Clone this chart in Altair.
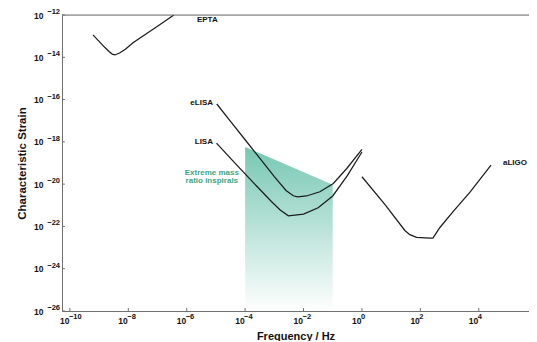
import altair as alt
import pandas as pd

# values, as log10 of frequency (Hz) and log10 of strain
epta_logf = [-9.21, -9.0, -8.8, -8.65, -8.55, -8.46, -8.3, -8.1, -7.84, -7.0, -6.44]
epta_logh = [-12.94, -13.25, -13.54, -13.74, -13.85, -13.89, -13.80, -13.62, -13.31, -12.53, -12.0]

elisa_logf = [-4.97, -4.5, -4.0, -3.5, -3.0, -2.6, -2.35, -2.2, -1.9, -1.44, -0.98, -0.52, 0.0]
elisa_logh = [-16.21, -17.03, -17.90, -18.77, -19.64, -20.30, -20.55, -20.60, -20.56, -20.36, -19.97, -19.26, -18.36]

lisa_logf = [-4.98, -4.3, -3.6, -3.1, -2.8, -2.52, -2.0, -1.5, -1.0, -0.5, 0.0]
lisa_logh = [-18.06, -19.08, -20.10, -20.82, -21.22, -21.50, -21.42, -21.12, -20.56, -19.60, -18.48]

aligo_logf = [0.0, 0.79, 1.47, 1.64, 1.87, 2.33, 2.43, 2.67, 3.12, 3.70, 4.42]
aligo_logh = [-19.65, -20.97, -22.19, -22.39, -22.52, -22.55, -22.55, -22.05, -21.30, -20.38, -19.10]

emri_logf = [-4.0, -1.0]
emri_logh = [-18.24, -20.03]
emri_floor = -26.0

curve_labels = ["EPTA", "eLISA", "LISA", "aLIGO"]
label_logf = [-5.65, -5.10, -5.10, 4.83]
label_logh = [-12.23, -16.18, -18.01, -19.0]
label_align = ["left", "right", "right", "left"]

emri_text = ["Extreme mass", "ratio inspirals"]
emri_text_logf = -5.14
emri_text_logh = -19.46

x_ticks = [-10, -8, -6, -4, -2, 0, 2, 4]
y_ticks = [-26, -24, -22, -20, -18, -16, -14, -12]
x_domain = [-10.27, 5.72]
y_domain = [-26, -12]


def exp_str(e):
    return str(e).replace("-", "\u2212")


rows = []
for name, lf, lh in [("EPTA", epta_logf, epta_logh), ("eLISA", elisa_logf, elisa_logh),
                     ("LISA", lisa_logf, lisa_logh), ("aLIGO", aligo_logf, aligo_logh)]:
    for a, b in zip(lf, lh):
        rows.append({"curve": name, "f": 10 ** a, "h": 10 ** b})
curves = pd.DataFrame(rows)

emri = pd.DataFrame({"f": [10 ** v for v in emri_logf],
                     "h": [10 ** v for v in emri_logh],
                     "h2": [10 ** emri_floor] * len(emri_logf)})

labels = pd.DataFrame({"label": curve_labels,
                       "f": [10 ** v for v in label_logf],
                       "h": [10 ** v for v in label_logh],
                       "align": label_align})

xexp = pd.DataFrame({"f": [10 ** t for t in x_ticks], "e": [exp_str(t) for t in x_ticks]})
yexp = pd.DataFrame({"h": [10 ** t for t in y_ticks], "e": [exp_str(t) for t in y_ticks]})

font = "Liberation Sans"
axis_col = "#707070"
fmin = 10 ** x_domain[0]
hmin = 10 ** y_domain[0]

xscale = alt.Scale(type="log", domain=[10 ** v for v in x_domain], nice=False)
yscale = alt.Scale(type="log", domain=[10 ** v for v in y_domain], nice=False)

xaxis = alt.Axis(values=[10 ** t for t in x_ticks], labelExpr="'10'",
                 title="Frequency / Hz", grid=False, ticks=False, domainColor=axis_col,
                 labelFont=font, labelFontSize=8.5, labelFontWeight="bold", labelColor="#111",
                 labelAlign="right", labelOffset=-1, labelBaseline="top",
                 titleFont=font, titleFontSize=11, titleFontWeight="bold", titleColor="#111",
                 labelPadding=5, titlePadding=6, labelFlush=False)
yaxis = alt.Axis(values=[10 ** t for t in y_ticks], labelExpr="'10'",
                 title="Characteristic Strain", grid=False, ticks=False, domainColor=axis_col,
                 labelFont=font, labelFontSize=8.5, labelFontWeight="bold", labelColor="#111",
                 labelBaseline="middle",
                 titleFont=font, titleFontSize=11.5, titleFontWeight="bold", titleColor="#111",
                 labelPadding=19, titlePadding=6, labelFlush=False)

grad = alt.LinearGradient(gradient="linear",
                          stops=[alt.GradientStop(color="#76c7b3", offset=0),
                                 alt.GradientStop(color="#ffffff", offset=1)],
                          x1=0, x2=0, y1=0, y2=1)

area = alt.Chart(emri).mark_area(color=grad, clip=True).encode(
    x=alt.X("f:Q", scale=xscale, axis=xaxis),
    y=alt.Y("h:Q", scale=yscale, axis=yaxis),
    y2="h2:Q",
)

lines = alt.Chart(curves).mark_line(color="#1c1c1c", strokeWidth=1.25, clip=True).encode(
    x=alt.X("f:Q", scale=xscale),
    y=alt.Y("h:Q", scale=yscale),
    detail="curve:N",
)

top = alt.Chart(pd.DataFrame({"h": [10 ** y_domain[1]]})).mark_rule(color=axis_col, strokeWidth=1).encode(
    y=alt.Y("h:Q", scale=yscale),
)

xticks = alt.Chart(xexp).mark_rule(color=axis_col, strokeWidth=1).encode(
    x=alt.X("f:Q", scale=xscale),
    y=alt.datum(hmin, scale=yscale),
    y2=alt.datum(10 ** (y_domain[0] + 0.14)),
)
yticks = alt.Chart(yexp).mark_rule(color=axis_col, strokeWidth=1).encode(
    y=alt.Y("h:Q", scale=yscale),
    x=alt.datum(fmin, scale=xscale),
    x2=alt.datum(10 ** (x_domain[0] + 0.1)),
)

xexp_text = alt.Chart(xexp).mark_text(
    align="left", baseline="middle", font=font, fontSize=7.5, fontWeight="bold",
    color="#111", dx=-1, dy=6
).encode(x=alt.X("f:Q", scale=xscale), y=alt.datum(hmin, scale=yscale), text="e:N")

yexp_text = alt.Chart(yexp).mark_text(
    align="right", baseline="alphabetic", font=font, fontSize=7.5, fontWeight="bold",
    color="#111", dx=-2, dy=-1
).encode(y=alt.Y("h:Q", scale=yscale), x=alt.datum(fmin, scale=xscale), text="e:N")

lab_left = alt.Chart(labels[labels["align"] == "left"]).mark_text(
    align="left", baseline="middle", font=font, fontSize=8, fontWeight="bold", color="#111"
).encode(x=alt.X("f:Q", scale=xscale), y=alt.Y("h:Q", scale=yscale), text="label:N")

lab_right = alt.Chart(labels[labels["align"] == "right"]).mark_text(
    align="right", baseline="middle", font=font, fontSize=8, fontWeight="bold", color="#111"
).encode(x=alt.X("f:Q", scale=xscale), y=alt.Y("h:Q", scale=yscale), text="label:N")

emri_label = alt.Chart(pd.DataFrame({"f": [10 ** emri_text_logf], "h": [10 ** emri_text_logh],
                                     "t": ["\n".join(emri_text)]})).mark_text(
    align="center", baseline="middle", font=font, fontSize=8, fontWeight="bold",
    color="#3ea487", lineBreak="\n", lineHeight=8.5
).encode(x=alt.X("f:Q", scale=xscale), y=alt.Y("h:Q", scale=yscale), text="t:N")

chart = alt.layer(area, lines, top, xticks, yticks, xexp_text, yexp_text,
                  lab_left, lab_right, emri_label).properties(
    width=467, height=296,
    autosize=alt.AutoSizeParams(type="none"),
    padding={"left": 54, "top": 7, "right": 0, "bottom": 30},
).configure_view(stroke=None).configure(background="white")

chart.save("out.html", embed_options={"renderer": "svg", "actions": False})
